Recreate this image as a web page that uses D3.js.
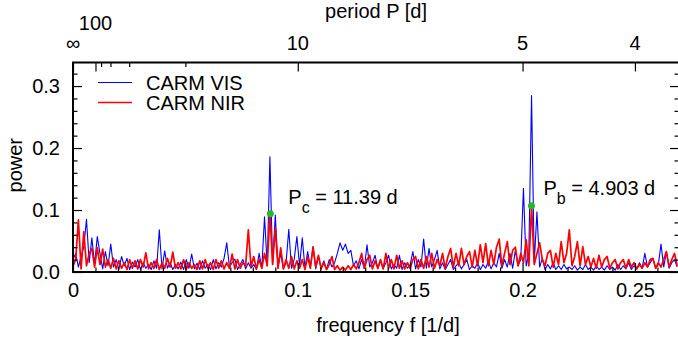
<!DOCTYPE html>
<html>
<head>
<meta charset="utf-8">
<script src="https://cdn.jsdelivr.net/npm/d3@7"></script>
<style>
  body { margin: 0; background: #fff; }
  text { font-family: "Liberation Sans", Arial, sans-serif; fill: #000; }
</style>
</head>
<body>
<div id="chart"></div>
<script>
// periodogram sampled on a regular frequency grid (1/d)
const freqStep = 0.0012;

const visPower = [
  0.02, 0.03, 0.008, 0.025, 0.04, 0.085, 0.015, 0.055, 0.012, 0.057,
  0.03, 0.005, 0.033, 0.01, 0.045, 0.008, 0.02, 0.004, 0.025, 0.01,
  0.022, 0.004, 0.016, 0.008, 0.02, 0.004, 0.015, 0.006, 0.012, 0.004,
  0.018, 0.006, 0.068, 0.005, 0.034, 0.006, 0.015, 0.004, 0.012, 0.005,
  0.016, 0.004, 0.02, 0.006, 0.029, 0.005, 0.014, 0.004, 0.018, 0.006,
  0.012, 0.004, 0.02, 0.005, 0.015, 0.008, 0.022, 0.047, 0.008, 0.015,
  0.021, 0.004, 0.012, 0.02, 0.005, 0.015, 0.006, 0.012, 0.004, 0.03,
  0.006, 0.089, 0.01, 0.186, 0.012, 0.092, 0.008, 0.03, 0.005, 0.015,
  0.069, 0.006, 0.02, 0.057, 0.01, 0.055, 0.006, 0.033, 0.008, 0.041,
  0.005, 0.025, 0.006, 0.018, 0.004, 0.02, 0.008, 0.015, 0.03, 0.047,
  0.035, 0.045, 0.03, 0.035, 0.01, 0.018, 0.005, 0.02, 0.006, 0.044,
  0.008, 0.015, 0.027, 0.005, 0.018, 0.006, 0.015, 0.027, 0.005, 0.012,
  0.006, 0.027, 0.004, 0.015, 0.006, 0.012, 0.033, 0.005, 0.02, 0.008,
  0.053, 0.006, 0.038, 0.008, 0.02, 0.035, 0.005, 0.015, 0.004, 0.012,
  0.02, 0.004, 0.01, 0.015, 0.005, 0.012, 0.02, 0.004, 0.01, 0.006,
  0.015, 0.004, 0.012, 0.006, 0.018, 0.005, 0.015, 0.008, 0.03, 0.006,
  0.02, 0.008, 0.03, 0.006, 0.035, 0.01, 0.02, 0.135, 0.01, 0.03,
  0.2845, 0.015, 0.097, 0.008, 0.022, 0.004, 0.012, 0.005, 0.015, 0.004,
  0.01, 0.004, 0.012, 0.005, 0.008, 0.004, 0.01, 0.003, 0.008, 0.004,
  0.012, 0.004, 0.008, 0.003, 0.01, 0.004, 0.008, 0.003, 0.01, 0.004,
  0.008, 0.003, 0.012, 0.004, 0.01, 0.005, 0.015, 0.004, 0.01, 0.005,
  0.015, 0.006, 0.03, 0.008, 0.015, 0.022, 0.006, 0.012, 0.045, 0.008,
  0.033, 0.006, 0.015, 0.02, 0.008
];

const nirPower = [
  0.01, 0.02, 0.084, 0.005, 0.065, 0.01, 0.03, 0.038, 0.008, 0.039,
  0.012, 0.037, 0.008, 0.02, 0.006, 0.022, 0.005, 0.018, 0.006, 0.015,
  0.004, 0.02, 0.006, 0.018, 0.005, 0.02, 0.008, 0.031, 0.005, 0.015,
  0.006, 0.02, 0.004, 0.015, 0.006, 0.022, 0.008, 0.032, 0.006, 0.015,
  0.005, 0.02, 0.004, 0.015, 0.006, 0.012, 0.004, 0.018, 0.005, 0.02,
  0.006, 0.015, 0.004, 0.02, 0.006, 0.018, 0.005, 0.015, 0.006, 0.029,
  0.005, 0.02, 0.006, 0.015, 0.01, 0.068, 0.008, 0.025, 0.005, 0.02,
  0.006, 0.03, 0.01, 0.094, 0.012, 0.071, 0.006, 0.039, 0.005, 0.02,
  0.006, 0.025, 0.005, 0.018, 0.006, 0.02, 0.004, 0.025, 0.006, 0.04,
  0.008, 0.027, 0.005, 0.015, 0.004, 0.012, 0.025, 0.004, 0.01, 0.003,
  0.008, 0.003, 0.01, 0.004, 0.012, 0.005, 0.015, 0.03, 0.006, 0.02,
  0.027, 0.005, 0.018, 0.006, 0.02, 0.005, 0.03, 0.006, 0.02, 0.005,
  0.027, 0.006, 0.018, 0.005, 0.015, 0.006, 0.02, 0.025, 0.005, 0.02,
  0.006, 0.025, 0.008, 0.03, 0.006, 0.02, 0.01, 0.03, 0.006, 0.025,
  0.038, 0.008, 0.03, 0.01, 0.038, 0.012, 0.025, 0.033, 0.008, 0.035,
  0.01, 0.044, 0.015, 0.046, 0.01, 0.035, 0.012, 0.04, 0.053, 0.01,
  0.03, 0.049, 0.012, 0.035, 0.04, 0.01, 0.03, 0.015, 0.052, 0.01,
  0.107, 0.012, 0.03, 0.047, 0.02, 0.01, 0.03, 0.035, 0.008, 0.03,
  0.012, 0.049, 0.015, 0.03, 0.068, 0.01, 0.025, 0.049, 0.01, 0.041,
  0.012, 0.025, 0.008, 0.022, 0.006, 0.027, 0.008, 0.02, 0.025, 0.006,
  0.015, 0.02, 0.005, 0.015, 0.02, 0.006, 0.02, 0.008, 0.015, 0.005,
  0.012, 0.006, 0.015, 0.008, 0.02, 0.022, 0.006, 0.015, 0.008, 0.02,
  0.033, 0.008, 0.02, 0.03, 0.01
];

const seriesNames = ['CARM VIS', 'CARM NIR'];
const seriesColors = ['#0000ff', '#ff0000'];

const freqTicks = [0, 0.05, 0.1, 0.15, 0.2, 0.25];
const powerTicks = [0, 0.1, 0.2, 0.3];
const periodMajor = [Infinity, 100, 10, 5, 4];
const periodMinor = [80, 60, 40, 20];

const peakNames = ['c', 'b'];
const peakPeriods = [11.39, 4.903];
const peakPowers = [0.094, 0.107];

const width = 678, height = 345;
const margin = { top: 62.5, right: -1, bottom: 73, left: 73 };
const plotW = width - margin.left - margin.right;
const plotH = height - margin.top - margin.bottom;

const x = d3.scaleLinear().domain([0, 0.2696]).range([0, plotW]);
const y = d3.scaleLinear().domain([0, 0.338]).range([plotH, 0]);

const svg = d3.select('#chart')
  .append('svg')
  .attr('width', width)
  .attr('height', height)
  .style('display', 'block');

const g = svg.append('g')
  .attr('transform', 'translate(' + margin.left + ',' + margin.top + ')');

g.append('clipPath').attr('id', 'clip')
  .append('rect').attr('width', plotW).attr('height', plotH);

// data lines
const line = d3.line()
  .x((d, i) => x(i * freqStep))
  .y(d => y(d));

[visPower, nirPower].forEach(function(vals, k) {
  g.append('path')
    .datum(vals)
    .attr('clip-path', 'url(#clip)')
    .attr('fill', 'none')
    .attr('stroke', seriesColors[k])
    .attr('stroke-width', k === 0 ? 1.1 : 1.7)
    .attr('stroke-linejoin', 'round')
    .attr('d', line);
});

// axes, ticks pointing inward
function styleAxis(sel) {
  sel.select('.domain').remove();
  sel.selectAll('.tick line').attr('stroke', '#000').attr('stroke-width', 1.2);
  sel.selectAll('text').style('font-size', '20px').attr('fill', '#000');
}

const minorFreq = d3.range(0, 0.27, 0.01).filter(v => Math.round(v * 100) % 5 !== 0);
const minorPower = d3.range(0, 0.34, 0.02).filter(v => Math.round(v * 100) % 10 !== 0);

g.append('g')
  .attr('transform', 'translate(0,' + plotH + ')')
  .call(d3.axisBottom(x).tickValues(freqTicks).tickSize(-9).tickPadding(11)
    .tickFormat(d => d === 0 ? '0' : d3.format('')(d)))
  .call(styleAxis);

g.append('g')
  .attr('transform', 'translate(0,' + plotH + ')')
  .call(d3.axisBottom(x).tickValues(minorFreq).tickSize(-4.5).tickFormat(''))
  .call(styleAxis);

g.append('g')
  .call(d3.axisLeft(y).tickValues(powerTicks).tickSize(-9).tickPadding(13)
    .tickFormat(d3.format('.1f')))
  .call(styleAxis);

[0, plotW].forEach(function(pos, k) {
  g.append('g')
    .attr('transform', 'translate(' + pos + ',0)')
    .call((k === 0 ? d3.axisLeft(y) : d3.axisRight(y)).tickValues(minorPower).tickSize(-4.5).tickFormat(''))
    .call(styleAxis);
});

g.append('g')
  .attr('transform', 'translate(' + plotW + ',0)')
  .call(d3.axisRight(y).tickValues(powerTicks).tickSize(-9).tickFormat(''))
  .call(styleAxis);

// top period axis
g.append('g')
  .call(d3.axisTop(x).tickValues(periodMajor.map(p => 1 / p)).tickSize(-9).tickFormat(''))
  .call(styleAxis);
g.append('g')
  .call(d3.axisTop(x).tickValues(periodMinor.map(p => 1 / p)).tickSize(-4.5).tickFormat(''))
  .call(styleAxis);

g.selectAll('.period-label')
  .data(periodMajor)
  .enter()
  .append('text')
  .attr('class', 'period-label')
  .attr('x', p => x(1 / p))
  .attr('y', p => p === 100 ? -33 : -12.5)
  .attr('text-anchor', 'middle')
  .style('font-size', '20px')
  .text(p => p === Infinity ? '\u221e' : p);

// frame
g.append('rect')
  .attr('width', plotW)
  .attr('height', plotH)
  .attr('fill', 'none')
  .attr('stroke', '#000')
  .attr('stroke-width', 2);

// axis titles
svg.append('text')
  .attr('x', margin.left + plotW / 2)
  .attr('y', 18)
  .attr('text-anchor', 'middle')
  .style('font-size', '20px')
  .text('period P [d]');

svg.append('text')
  .attr('x', margin.left + plotW / 2 + 12)
  .attr('y', 332)
  .attr('text-anchor', 'middle')
  .style('font-size', '20px')
  .text('frequency f [1/d]');

svg.append('text')
  .attr('transform', 'translate(22,' + (margin.top + plotH / 2 - 2) + ') rotate(-90)')
  .attr('text-anchor', 'middle')
  .style('font-size', '20px')
  .text('power');

// legend
const legend = g.append('g').attr('transform', 'translate(25,20)');
seriesNames.forEach(function(name, k) {
  legend.append('line')
    .attr('x1', 0).attr('x2', 34)
    .attr('y1', k * 20).attr('y2', k * 20)
    .attr('stroke', seriesColors[k])
    .attr('stroke-width', k === 0 ? 1.1 : 1.7);
  legend.append('text')
    .attr('x', 48)
    .attr('y', k * 20)
    .attr('dy', '0.36em')
    .style('font-size', '20px')
    .text(name);
});

// detected peaks
const labelOffsets = [[18, -10], [12, -11]];
peakPeriods.forEach(function(p, k) {
  const px = x(1 / p), py = y(peakPowers[k]);
  g.append('circle')
    .attr('cx', px).attr('cy', py).attr('r', 3.5)
    .attr('fill', '#22bb22');
  const t = g.append('text')
    .attr('x', px + labelOffsets[k][0])
    .attr('y', py + labelOffsets[k][1])
    .style('font-size', '20px');
  t.append('tspan').text('P');
  t.append('tspan').attr('dy', 9).style('font-size', '16px').text(peakNames[k]);
  t.append('tspan').attr('dy', -9).text(' = ' + p + ' d');
});
</script>
</body>
</html>
